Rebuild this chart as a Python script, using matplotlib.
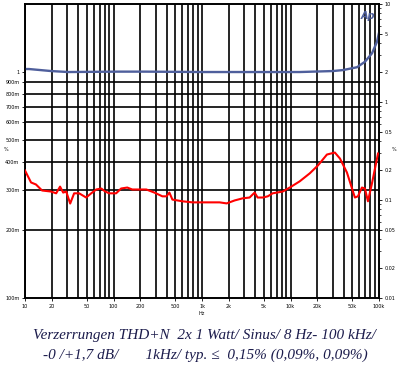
import matplotlib
matplotlib.use("Agg")
import matplotlib.pyplot as plt
from matplotlib.ticker import FixedLocator, NullLocator, NullFormatter

# THD+N in % (right axis)
thd_freq = [10, 11.7, 13.3, 15.6, 19.7, 22.5, 24.9, 27, 29.2, 32.4, 35.9, 40.9,
            49.1, 56, 63.8, 72.7, 80.7, 89.5, 107, 122, 143, 163, 196, 235, 290,
            357, 396, 428, 463, 601, 780, 1125, 1580, 1900, 2340, 2880, 3450,
            3930, 4250, 4850, 5530, 6290, 8170, 9810, 12700, 16500, 20400,
            25800, 31700, 36200, 43400, 53400, 57800, 64100, 69300, 75000,
            83300, 97500]
thd_pct = [0.200, 0.151, 0.144, 0.125, 0.122, 0.117, 0.137, 0.119, 0.122, 0.092,
           0.117, 0.117, 0.106, 0.117, 0.128, 0.131, 0.122, 0.117, 0.117, 0.131,
           0.134, 0.128, 0.128, 0.128, 0.119, 0.109, 0.109, 0.119, 0.101, 0.097,
           0.0946, 0.0946, 0.0946, 0.0923, 0.099, 0.104, 0.106, 0.119, 0.106,
           0.106, 0.109, 0.117, 0.122, 0.134, 0.155, 0.187, 0.225, 0.291, 0.305,
           0.265, 0.191, 0.106, 0.109, 0.134, 0.131, 0.097, 0.148, 0.298]

# level curve (left axis)
lvl_freq = [10, 11.1, 19.7, 30.7, 113, 229, 1000, 12700, 30100, 39100, 56400,
            69300, 83300, 94900, 100000]
lvl_val = [1.031, 1.031, 1.010, 1.0, 1.004, 1.004, 1.0, 1.0, 1.01, 1.02, 1.05,
           1.11, 1.21, 1.36, 1.49]

x_ticks = [10, 20, 50, 100, 200, 500, 1000, 2000, 5000, 10000, 20000, 50000, 100000]
x_labels = ["10", "20", "50", "100", "200", "500", "1k", "2k", "5k", "10k", "20k", "50k", "100k"]
left_ticks = [0.1, 0.2, 0.3, 0.4, 0.5, 0.6, 0.7, 0.8, 0.9, 1]
left_labels = ["100m", "200m", "300m", "400m", "500m", "600m", "700m", "800m", "900m", "1"]
right_ticks = [0.01, 0.02, 0.05, 0.1, 0.2, 0.5, 1, 2, 5, 10]
right_labels = ["0.01", "0.02", "0.05", "0.1", "0.2", "0.5", "1", "2", "5", "10"]

caption1 = "Verzerrungen THD+N  2x 1 Watt/ Sinus/ 8 Hz- 100 kHz/"
caption2 = "-0 /+1,7 dB/       1kHz/ typ. \u2264  0,15% (0,09%, 0,09%)"

fig = plt.figure(figsize=(4.03, 3.68), dpi=100)
ax = fig.add_axes([25 / 403, 1 - 298 / 368, 354 / 403, 294 / 368])
ax.set_xscale("log")
ax.set_yscale("log")
ax.set_xlim(10, 100000)
ax.set_ylim(0.1, 2.0)

# vertical grid at every 1..9 multiple
for dec in [10, 100, 1000, 10000]:
    for m in range(1, 10):
        ax.axvline(dec * m, color="black", lw=1.2, zorder=1)
for v in left_ticks[1:-1]:
    ax.axhline(v, color="black", lw=1.2, zorder=1)

ax.plot(lvl_freq, lvl_val, color="#4f5f9c", lw=1.7, zorder=3)

ax.xaxis.set_major_locator(FixedLocator(x_ticks))
ax.set_xticklabels(x_labels)
ax.xaxis.set_minor_locator(NullLocator())
ax.yaxis.set_major_locator(FixedLocator(left_ticks))
ax.set_yticklabels(left_labels)
ax.yaxis.set_minor_locator(NullLocator())
ax.tick_params(axis="both", which="major", labelsize=3.5, length=2, width=0.6, pad=2)
ax.set_xlabel("Hz", fontsize=3.5, labelpad=2)

ax2 = ax.twinx()
ax2.set_yscale("log")
ax2.set_ylim(0.01, 10)
ax2.plot(thd_freq, thd_pct, color="#ff0000", lw=1.5, zorder=4)
ax2.yaxis.set_major_locator(FixedLocator(right_ticks))
ax2.set_yticklabels(right_labels)
ax2.yaxis.set_minor_formatter(NullFormatter())
ax2.tick_params(axis="y", which="major", labelsize=3.5, length=2, width=0.6, pad=2)
ax2.tick_params(axis="y", which="minor", length=1.5, width=0.5)

for a in (ax, ax2):
    for s in a.spines.values():
        s.set_linewidth(1.2)

fig.text(4 / 403, 1 - 150 / 368, "%", fontsize=3.5, ha="left", va="center")
fig.text(392 / 403, 1 - 150 / 368, "%", fontsize=3.5, ha="left", va="center")
ax.text(0.968, 0.975, "Ap", transform=ax.transAxes, fontsize=7, fontweight="bold",
        style="italic", color="#4f5f9c", ha="center", va="top", zorder=5)

txt_color = "#1c1c4c"
fig.text(33 / 403, 1 - 336 / 368, caption1, fontsize=11, style="italic",
         family=["Liberation Serif", "DejaVu Serif"], color=txt_color, ha="left", va="center")
fig.text(43 / 403, 1 - 355 / 368, caption2, fontsize=11, style="italic",
         family=["Liberation Serif", "DejaVu Serif"], color=txt_color, ha="left", va="center")

fig.savefig("out.png", dpi=100)
